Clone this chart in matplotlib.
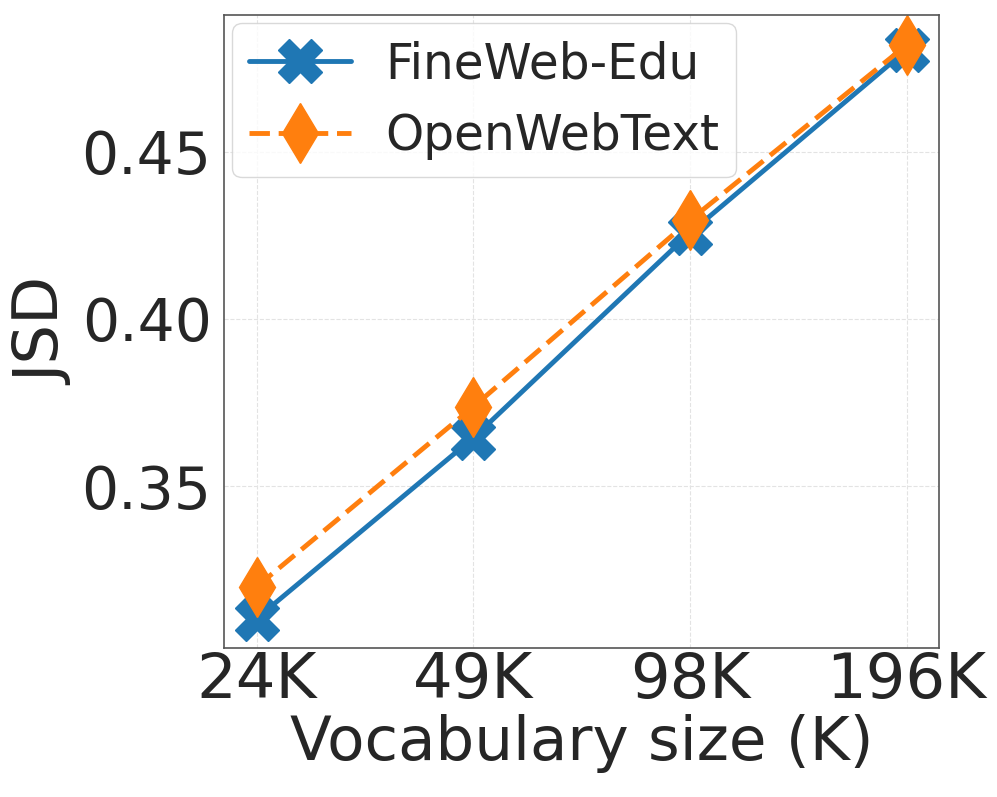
import matplotlib
matplotlib.use("Agg")
import matplotlib.pyplot as plt

vocab_labels = ["24K", "49K", "98K", "196K"]
fineweb_edu = [0.3104, 0.3644, 0.4257, 0.4804]
openwebtext = [0.3199, 0.3737, 0.4295, 0.4819]

plt.rcParams['font.family'] = ['DejaVu Sans']
text_color = '#262626'

fig = plt.figure(figsize=(9.97, 7.97), dpi=100)
L, R, T, B = 224, 939, 15, 648
ax = fig.add_axes([L/997, 1-B/797, (R-L)/997, (B-T)/797])

x = list(range(len(vocab_labels)))
ax.plot(x, fineweb_edu, color='#1f77b4', linestyle='-', linewidth=3.5,
        solid_capstyle='round', marker='X', markersize=31, label='FineWeb-Edu')
ax.plot(x, openwebtext, color='#ff7f0e', linestyle='--', linewidth=3.5,
        dashes=(4.2, 1.8), marker='d', markersize=31, label='OpenWebText')

ax.set_xticks(x)
ax.set_xticklabels(vocab_labels)
ax.set_yticks([0.35, 0.40, 0.45])
ax.set_yticklabels(["0.35", "0.40", "0.45"])
ax.set_xlim(-0.15, 3.15)
ax.set_ylim(0.3016, 0.4909)

ax.tick_params(axis='x', labelsize=45, colors=text_color, length=0, pad=2)
ax.tick_params(axis='y', labelsize=42, colors=text_color, length=0, pad=9)
ax.set_xlabel('Vocabulary size (K)', fontsize=44, color=text_color, labelpad=2)
ax.set_ylabel('JSD', fontsize=45, color=text_color, labelpad=5)

ax.grid(True, linestyle='--', color='#e3e3e3', linewidth=0.8)
ax.set_axisbelow(True)
for s in ax.spines.values():
    s.set_color('#555555')
    s.set_linewidth(1.2)

leg = ax.legend(loc='upper left', bbox_to_anchor=(8/(R-L), 1-8/(B-T)), borderaxespad=0,
                fontsize=35, frameon=True, fancybox=True, framealpha=0.8,
                edgecolor='#d0d0d0', handlelength=2.1, labelspacing=0.5,
                borderpad=0.35, handletextpad=0.7)
for t in leg.get_texts():
    t.set_color(text_color)

fig.savefig('out.png', dpi=100)
